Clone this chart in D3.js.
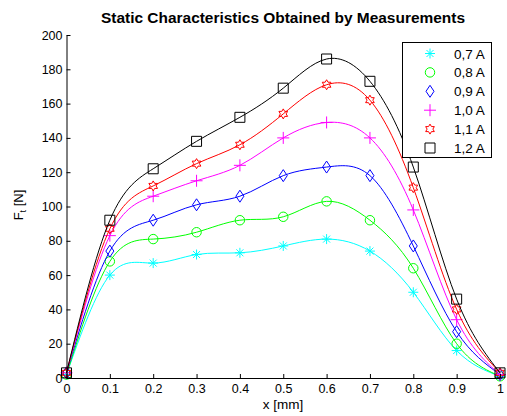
<!DOCTYPE html>
<html>
<head>
<meta charset="utf-8">
<script src="https://cdn.jsdelivr.net/npm/d3@7"></script>
<style>
body { margin: 0; background: #fff; }
svg { font-family: "Liberation Sans", Arial, sans-serif; }
</style>
</head>
<body>
<svg width="507" height="416"></svg>
<script>
var xs = [0, 0.1, 0.2, 0.3, 0.4, 0.5, 0.6, 0.7, 0.8, 0.9, 1];
var labels = ["0,7 A", "0,8 A", "0,9 A", "1,0 A", "1,1 A", "1,2 A"];
var colors = ["#00ffff", "#00ff00", "#0000ff", "#ff00ff", "#ff0000", "#000000"];
var markers = ["asterisk", "circle", "diamond", "plus", "hexagram", "square"];
var i07 = [2, 60, 67, 72, 73, 77, 81, 74, 50, 16, 1];
var i08 = [2, 68, 81, 85, 92, 94, 103, 92, 64, 20, 1];
var i09 = [3, 74, 92, 101, 106, 118, 123, 118, 77, 27, 2];
var i10 = [3, 83, 106, 115, 124, 140, 149, 140, 98, 34, 2];
var i11 = [3, 87, 112, 125, 136, 154, 171, 162, 111, 40, 3];
var i12 = [3, 92, 122, 138, 152, 169, 186, 173, 123, 46, 3];
var series = [i07, i08, i09, i10, i11, i12];
var xTicks = [0, 0.1, 0.2, 0.3, 0.4, 0.5, 0.6, 0.7, 0.8, 0.9, 1];
var yTicks = [0, 20, 40, 60, 80, 100, 120, 140, 160, 180, 200];

var svg = d3.select("svg");
var x = d3.scaleLinear().domain([0, 1]).range([66.5, 500]);
var y = d3.scaleLinear().domain([0, 200]).range([378, 35]);

// little marker shapes, matlab style
var markerPath = function (type) {
  if (type == "asterisk") return "M-5,0H5M0,-5V5M-3.5,-3.5L3.5,3.5M-3.5,3.5L3.5,-3.5";
  if (type == "plus") return "M-6,0H6M0,-6V6";
  if (type == "circle") return d3.symbol().type(d3.symbolCircle).size(70)();
  if (type == "diamond") return "M0,-6L4,0L0,6L-4,0Z";
  if (type == "square") return "M-5,-5H5V5H-5Z";
  if (type == "hexagram") {
    var p = [];
    for (var k = 0; k < 12; k++) {
      var r = k % 2 == 0 ? 5 : 2.9;
      var a = Math.PI / 6 * k - Math.PI / 2;
      p.push([r * Math.cos(a), r * Math.sin(a)]);
    }
    return "M" + p.join("L") + "Z";
  }
};

var line = d3.line()
  .x(function (d, i) { return x(xs[i]); })
  .y(function (d) { return y(d); })
  .curve(d3.curveNatural);

var plot = svg.append("g");
series.forEach(function (s, j) {
  plot.append("path")
    .attr("d", line(s))
    .attr("fill", "none")
    .attr("stroke", colors[j])
    .attr("stroke-width", 1);
  plot.selectAll(null)
    .data(s)
    .enter().append("path")
    .attr("transform", function (d, i) { return "translate(" + x(xs[i]) + "," + y(d) + ")"; })
    .attr("d", markerPath(markers[j]))
    .attr("fill", "none")
    .attr("stroke", colors[j])
    .attr("stroke-width", 1);
});

// axes with inward ticks
var xAxis = d3.axisBottom(x).tickValues(xTicks).tickSizeInner(-4).tickSizeOuter(0)
  .tickFormat(function (d) { return d == 0 || d == 1 ? d : d3.format(".1f")(d); });
var gx = svg.append("g").attr("transform", "translate(0," + y(0) + ")").call(xAxis);
gx.selectAll("text").attr("dy", "0.71em").attr("y", 6);

var yAxis = d3.axisLeft(y).tickValues(yTicks).tickSizeInner(-4).tickSizeOuter(0);
var gy = svg.append("g").attr("transform", "translate(" + x(0) + ",0)").call(yAxis);
gy.selectAll("text").attr("x", -4);

svg.selectAll(".tick text").attr("font-size", 12.5).attr("fill", "#000")
  .attr("font-family", "Liberation Sans, Arial, sans-serif");
svg.selectAll(".domain, .tick line").attr("stroke", "#000");

svg.append("text")
  .attr("x", 283).attr("y", 23)
  .attr("text-anchor", "middle")
  .attr("font-size", 14.5).attr("font-weight", "bold")
  .attr("textLength", 364).attr("lengthAdjust", "spacingAndGlyphs")
  .text("Static Characteristics Obtained by Measurements");

svg.append("text")
  .attr("x", 283).attr("y", 409)
  .attr("text-anchor", "middle")
  .attr("font-size", 13.5)
  .text("x [mm]");

var yl = svg.append("text")
  .attr("transform", "translate(23,205) rotate(-90)")
  .attr("text-anchor", "middle")
  .attr("font-size", 13);
yl.append("tspan").text("F");
yl.append("tspan").attr("font-size", 9).attr("dy", 3).text("t");
yl.append("tspan").attr("dy", -3).text(" [N]");

// legend
var leg = svg.append("g");
leg.append("rect")
  .attr("x", 402.5).attr("y", 42.5).attr("width", 89).attr("height", 115)
  .attr("fill", "#fff").attr("stroke", "#000");
labels.forEach(function (l, j) {
  var ly = 53.5 + j * 18.9;
  leg.append("path")
    .attr("transform", "translate(430," + ly + ")")
    .attr("d", markerPath(markers[j]))
    .attr("fill", "none").attr("stroke", colors[j]);
  leg.append("text")
    .attr("x", 454).attr("y", ly + 5)
    .attr("font-size", 13.5)
    .text(l);
});
</script>
</body>
</html>
